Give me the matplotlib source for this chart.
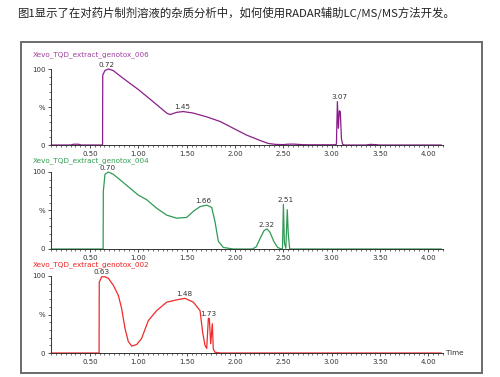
import matplotlib.pyplot as plt
from matplotlib.patches import Rectangle
from matplotlib.ticker import MultipleLocator

title = "图1显示了在对药片制剂溶液的杂质分析中，如何使用RADAR辅助LC/MS/MS方法开发。"

names = ["Xevo_TQD_extract_genotox_006",
         "Xevo_TQD_extract_genotox_004",
         "Xevo_TQD_extract_genotox_002"]

# trace 006 (purple)
t1 = [0.10, 0.30, 0.33, 0.38, 0.41, 0.60, 0.630, 0.632, 0.655, 0.69, 0.74, 0.81, 0.914,
      1.00, 1.086, 1.19, 1.293, 1.327, 1.397, 1.465, 1.568, 1.707, 1.844, 1.982,
      2.12, 2.258, 2.344, 2.42, 2.50, 2.54, 2.60, 2.69, 2.75, 3.03, 3.048, 3.058,
      3.068, 3.078, 3.088, 3.10, 3.112, 3.13, 3.35, 3.40, 3.45, 3.50, 4.13]
y1 = [0, 0, 1, 1, 0, 0, 0, 92, 98, 100, 98, 91, 81,
      73, 64, 53, 42, 40, 43, 44, 42, 37, 31, 22,
      13, 6, 2, 0.8, 0.5, 1, 1.2, 0.5, 0.3, 0.3, 1, 57,
      22, 45, 44, 8, 1, 0, 0, 0.8, 0.5, 0, 0]

# trace 004 (green)
t2 = [0.10, 0.636, 0.638, 0.655, 0.69, 0.741, 0.81, 0.914, 1.00, 1.086, 1.189,
      1.293, 1.396, 1.50, 1.569, 1.638, 1.707, 1.758, 1.792, 1.827, 1.879, 1.982,
      2.18, 2.22, 2.26, 2.30, 2.33, 2.36, 2.40, 2.44, 2.48, 2.49, 2.500, 2.510,
      2.525, 2.540, 2.550, 2.565, 2.60, 4.13]
y2 = [0, 0, 75, 97, 100, 97, 90, 79, 70, 64, 53,
      44, 40, 41, 49, 55, 57, 54, 36, 10, 2, 0,
      0, 3, 14, 24, 26, 22, 10, 2, 0, 0, 58, 8,
      1, 51, 20, 0, 0, 0]

# trace 002 (red)
t3 = [0.10, 0.594, 0.596, 0.621, 0.655, 0.69, 0.741, 0.793, 0.827, 0.862, 0.896,
      0.931, 0.983, 1.034, 1.103, 1.189, 1.293, 1.396, 1.482, 1.569, 1.638, 1.665,
      1.689, 1.707, 1.724, 1.734, 1.748, 1.765, 1.775, 1.792, 1.85, 4.13]
y3 = [0, 0, 92, 99, 99, 97, 88, 75, 58, 32, 15,
      9, 11, 19, 42, 55, 66, 69, 71, 66, 55, 27,
      10, 6, 45, 45, 12, 38, 5, 1, 0, 0]

# peak labels: text, apex time, apex height
peaks1 = [("0.72", 0.676, 100), ("1.45", 1.452, 44), ("3.07", 3.075, 57)]
peaks2 = [("0.70", 0.686, 100), ("1.66", 1.668, 57), ("2.32", 2.33, 26), ("2.51", 2.517, 58)]
peaks3 = [("0.63", 0.624, 100), ("1.48", 1.472, 71), ("1.73", 1.72, 45)]

traces = [(t1, y1, peaks1, "#8a1f8a", "#a040a0"),
          (t2, y2, peaks2, "#2f9a55", "#30a050"),
          (t3, y3, peaks3, "#f02a2a", "#f02020")]

fig = plt.figure(figsize=(5, 3.77), dpi=100)
W, H = 500, 377

fig.text(17 / W, 1 - 13 / H, title, fontsize=8.2, color="#222222",
         family=["Noto Sans CJK SC", "DejaVu Sans"], va="center", ha="left")

fig.patches.append(Rectangle((21 / W, 1 - 373 / H), 461 / W, 331 / H,
                             transform=fig.transFigure, fill=False,
                             edgecolor="#6a6a6a", linewidth=1.4))

# pixel rows for 100 and 0 of each panel, and label rows
rows = [(69, 145, 55), (172, 249, 161), (276, 353, 265)]

for i, (t, y, peaks, col, lcol) in enumerate(traces):
    top, bot, lab = rows[i]
    ax = fig.add_axes([51 / W, 1 - bot / H, 392 / W, (bot - top) / H])
    ax.plot(t, y, color=col, linewidth=0.9, clip_on=False)
    ax.set_xlim(0.097, 4.15)
    ax.set_ylim(0, 100)
    for s in ["top", "right"]:
        ax.spines[s].set_visible(False)
    for s in ["left", "bottom"]:
        ax.spines[s].set_color("#333333")
        ax.spines[s].set_linewidth(0.7)
    ax.set_xticks([0.5, 1.0, 1.5, 2.0, 2.5, 3.0, 3.5, 4.0])
    ax.set_xticklabels(["0.50", "1.00", "1.50", "2.00", "2.50", "3.00", "3.50", "4.00"])
    ax.xaxis.set_minor_locator(MultipleLocator(0.05))
    ax.set_yticks([0, 50, 100])
    ax.set_yticklabels(["0", "%", "100"])
    ax.yaxis.set_minor_locator(MultipleLocator(10))
    ax.tick_params(axis="both", which="major", labelsize=5, length=2.5, width=0.6,
                   pad=1.5, color="#333333", labelcolor="#333333")
    ax.tick_params(axis="both", which="minor", length=1.3, width=0.5, color="#333333")
    ax.patch.set_alpha(0)
    for txt, pt, ph in peaks:
        ax.annotate(txt, (pt, ph), xytext=(0, 1), textcoords="offset points",
                    ha="center", va="bottom", fontsize=5.2, color="#333333",
                    annotation_clip=False)
    fig.text(33 / W, 1 - lab / H, names[i], fontsize=5.2, color=lcol,
             va="center", ha="left")
    if i == 2:
        ax.text(1.008, 0, "Time", transform=ax.transAxes, fontsize=5.2,
                color="#333333", va="center", ha="left")

fig.savefig("out.png", dpi=100)
